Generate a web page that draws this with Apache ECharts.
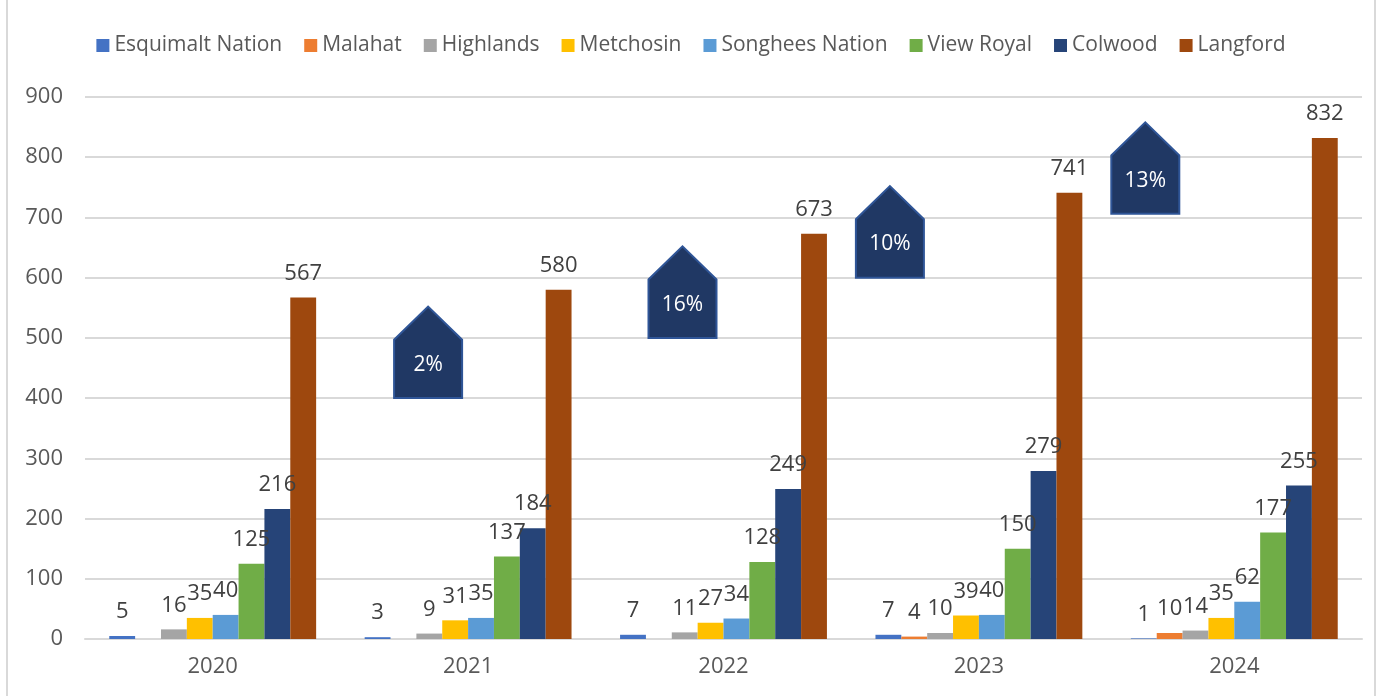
<!DOCTYPE html>
<html lang="en">

<head>
    <meta charset="UTF-8">
    <title>Housing starts by municipality</title>
    <script src="https://cdn.jsdelivr.net/npm/echarts@6/dist/echarts.min.js"></script>
    <style>
        html, body { margin: 0; padding: 0; background: #fff; }
    </style>
</head>

<body>
    <div id="main" style="width:1382px; height:696px;"></div>
    <script>
        // data
        var years = ['2020', '2021', '2022', '2023', '2024'];
        var esquimalt = [5, 3, 7, 7, 1];
        var malahat = [null, null, null, 4, 10];
        var highlands = [16, 9, 11, 10, 14];
        var metchosin = [35, 31, 27, 39, 35];
        var songhees = [40, 35, 34, 40, 62];
        var viewRoyal = [125, 137, 128, 150, 177];
        var colwood = [216, 184, 249, 279, 255];
        var langford = [567, 580, 673, 741, 832];

        // growth arrows (year index, base value on the y axis)
        var arrowYears = [1, 2, 3, 4];
        var arrowBase = [400, 500, 600, 706];
        var arrowLabels = ['2%', '16%', '10%', '13%'];

        var font = '"Open Sans", "Liberation Sans", sans-serif';
        var textColor = '#595959';

        var names = ['Esquimalt Nation', 'Malahat', 'Highlands', 'Metchosin', 'Songhees Nation', 'View Royal', 'Colwood', 'Langford'];
        var values = [esquimalt, malahat, highlands, metchosin, songhees, viewRoyal, colwood, langford];
        var colors = ['#4472C4', '#ED7D31', '#A5A5A5', '#FFC000', '#5B9BD5', '#70AD47', '#264478', '#9E480E'];

        var series = [];
        for (var i = 0; i < names.length; i++) {
            series.push({
                name: names[i],
                type: 'bar',
                data: values[i],
                barGap: '0%',
                barCategoryGap: '19%',
                itemStyle: { color: colors[i] },
                label: {
                    show: true,
                    position: 'top',
                    distance: 13,
                    color: '#404040',
                    fontSize: 22,
                    fontFamily: font
                }
            });
        }

        // shift of the arrows from the category centre, in px
        var arrowShift = [-40, -41, -89, -89];
        series.push({
            type: 'custom',
            name: 'growth',
            data: arrowYears.map(function (y, k) { return [y, arrowBase[k]]; }),
            z: 5,
            renderItem: function (params, api) {
                var idx = params.dataIndex;
                var base = api.value(1);
                var pb = api.coord([api.value(0), base]);
                var ps = api.coord([api.value(0), base + 97]);
                var pt = api.coord([api.value(0), base + 152]);
                var cx = pb[0] + arrowShift[idx];
                var hw = 34;
                return {
                    type: 'group',
                    children: [{
                        type: 'polygon',
                        shape: {
                            points: [[cx - hw, pb[1]], [cx + hw, pb[1]], [cx + hw, ps[1]], [cx, pt[1]], [cx - hw, ps[1]]]
                        },
                        style: { fill: '#203864', stroke: '#2F5597', lineWidth: 2 }
                    }, {
                        type: 'text',
                        style: {
                            text: arrowLabels[idx],
                            x: cx,
                            y: (pb[1] + ps[1]) / 2 - 4,
                            fill: '#fff',
                            font: '21px ' + font,
                            align: 'center',
                            verticalAlign: 'middle'
                        }
                    }]
                };
            }
        });

        var myChart = echarts.init(document.getElementById('main'));
        var option = {
            animation: false,
            backgroundColor: '#fff',
            graphic: [{
                type: 'rect',
                shape: { x: 7, y: -10, width: 1368, height: 720 },
                style: { fill: 'none', stroke: '#d9d9d9', lineWidth: 2 },
                silent: true
            }],
            legend: {
                data: names,
                top: 30,
                left: 'center',
                itemWidth: 13,
                itemHeight: 13,
                itemGap: 22,
                icon: 'rect',
                textStyle: { color: textColor, fontSize: 21, fontFamily: font }
            },
            grid: { left: 85, right: 20, top: 97, bottom: 57 },
            xAxis: {
                type: 'category',
                data: years,
                axisTick: { show: false },
                axisLine: { lineStyle: { color: '#d9d9d9', width: 2 } },
                axisLabel: { color: textColor, fontSize: 22, fontFamily: font, margin: 17 }
            },
            yAxis: {
                type: 'value',
                min: 0,
                max: 900,
                interval: 100,
                axisLabel: { color: textColor, fontSize: 22, fontFamily: font, margin: 22 },
                splitLine: { lineStyle: { color: '#d9d9d9', width: 2 } }
            },
            series: series
        };
        myChart.setOption(option);
    </script>
</body>
</html>
